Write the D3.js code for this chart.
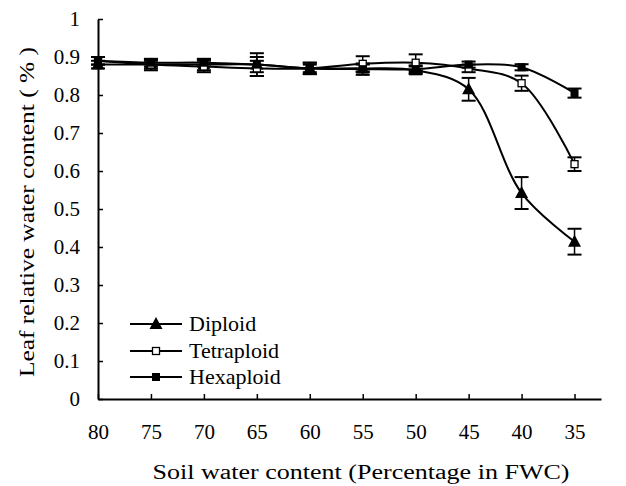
<!DOCTYPE html>
<html>
<head>
<meta charset="utf-8">
<script src="https://cdn.jsdelivr.net/npm/d3@7"></script>
<style>
  html, body { margin: 0; padding: 0; background: #fff; }
  svg { display: block; }
  text { font-family: "Liberation Serif", "Times New Roman", Times, serif; fill: #000; }
</style>
</head>
<body>
<svg id="chart" width="626" height="486"></svg>
<script>
// ---- data ----
const categories = ["80", "75", "70", "65", "60", "55", "50", "45", "40", "35"];
const diploid      = [0.880, 0.880, 0.880, 0.880, 0.870, 0.870, 0.865, 0.815, 0.542, 0.414];
const diploidErr   = [0.010, 0.010, 0.015, 0.020, 0.010, 0.010, 0.010, 0.030, 0.042, 0.034];
const tetraploid   = [0.890, 0.880, 0.875, 0.870, 0.870, 0.882, 0.885, 0.870, 0.831, 0.618];
const tetraErr     = [0.010, 0.015, 0.015, 0.020, 0.015, 0.020, 0.022, 0.010, 0.020, 0.018];
const hexaploid    = [0.890, 0.885, 0.885, 0.880, 0.870, 0.868, 0.868, 0.880, 0.873, 0.805];
const hexaErr      = [0.010, 0.010, 0.010, 0.030, 0.015, 0.015, 0.010, 0.008, 0.008, 0.012];
const yTicks = [0, 0.1, 0.2, 0.3, 0.4, 0.5, 0.6, 0.7, 0.8, 0.9, 1];
const yTickLabels = ["0", "0.1", "0.2", "0.3", "0.4", "0.5", "0.6", "0.7", "0.8", "0.9", "1"];
const seriesNames = ["Diploid", "Tetraploid", "Hexaploid"];
const xTitle = "Soil water content (Percentage in FWC)";
const yTitle = "Leaf relative water content ( % )";

(function () {
const series = [
  { name: seriesNames[0], values: diploid, err: diploidErr, marker: "triangle" },
  { name: seriesNames[1], values: tetraploid, err: tetraErr, marker: "open" },
  { name: seriesNames[2], values: hexaploid, err: hexaErr, marker: "filled" }
];

const svg = d3.select("#chart");
const mLeft = 98, mRight = 601, mTop = 19, mBottom = 399;

const x = d3.scaleLinear().domain([0, categories.length - 0.5]).range([mLeft, mRight]);
const y = d3.scaleLinear().domain([0, 1]).range([mBottom, mTop]);

// axes
const xAxis = d3.axisBottom(x)
  .tickValues(d3.range(categories.length))
  .tickFormat(i => categories[i])
  .tickSize(-5).tickSizeOuter(0).tickPadding(25);
const gx = svg.append("g").attr("transform", `translate(0,${mBottom})`).call(xAxis)
  .attr("font-family", null).attr("font-size", null);
gx.select(".domain").attr("stroke", "#000").attr("stroke-width", 2);
gx.selectAll(".tick line").attr("stroke", "#000").attr("stroke-width", 1.5);
gx.selectAll(".tick text").attr("font-size", 21);

const yAxis = d3.axisLeft(y)
  .tickValues(yTicks)
  .tickFormat((d, i) => yTickLabels[i])
  .tickSize(-5).tickSizeOuter(0).tickPadding(18);
const gy = svg.append("g").attr("transform", `translate(${mLeft},0)`).call(yAxis)
  .attr("font-family", null).attr("font-size", null);
gy.select(".domain").attr("stroke", "#000").attr("stroke-width", 2);
gy.selectAll(".tick line").attr("stroke", "#000").attr("stroke-width", 1.5);
gy.selectAll(".tick text").attr("font-size", 21);

// lines
const line = d3.line()
  .x((d, i) => x(i))
  .y(d => y(d))
  .curve(d3.curveCatmullRom.alpha(0.5));

const gPlot = svg.append("g");
series.forEach(s => {
  gPlot.append("path")
    .attr("d", line(s.values))
    .attr("fill", "none")
    .attr("stroke", "#000")
    .attr("stroke-width", 2);
});

// error bars
series.forEach(s => {
  const g = gPlot.append("g");
  s.values.forEach((v, i) => {
    const cx = x(i), hi = y(v + s.err[i]), lo = y(v - s.err[i]);
    g.append("line").attr("x1", cx).attr("x2", cx).attr("y1", hi).attr("y2", lo)
      .attr("stroke", "#000").attr("stroke-width", 1.5);
    [hi, lo].forEach(yy => {
      g.append("line").attr("x1", cx - 7).attr("x2", cx + 7).attr("y1", yy).attr("y2", yy)
        .attr("stroke", "#000").attr("stroke-width", 2);
    });
  });
});

function drawMarker(g, type, cx, cy) {
  if (type === "triangle") {
    g.append("path")
      .attr("d", `M${cx},${cy - 7}L${cx + 6.5},${cy + 5}L${cx - 6.5},${cy + 5}Z`)
      .attr("fill", "#000");
  } else if (type === "open") {
    g.append("rect").attr("x", cx - 3.5).attr("y", cy - 3.5).attr("width", 7).attr("height", 7)
      .attr("fill", "#fff").attr("stroke", "#000").attr("stroke-width", 1.3);
  } else {
    g.append("rect").attr("x", cx - 4).attr("y", cy - 4).attr("width", 8).attr("height", 8)
      .attr("fill", "#000");
  }
}

// markers
series.forEach(s => {
  const g = gPlot.append("g");
  s.values.forEach((v, i) => drawMarker(g, s.marker, x(i), y(v)));
});

// legend
const legendRows = [324, 351, 377];
const lg = svg.append("g");
series.forEach((s, k) => {
  const yy = legendRows[k];
  lg.append("line").attr("x1", 130).attr("x2", 182).attr("y1", yy).attr("y2", yy)
    .attr("stroke", "#000").attr("stroke-width", 2);
  drawMarker(lg, s.marker, 156, yy);
  lg.append("text").attr("x", 189).attr("y", yy + 7).attr("font-size", 22).text(s.name);
});

// titles
svg.append("text")
  .attr("x", 361).attr("y", 479)
  .attr("text-anchor", "middle").attr("font-size", 20)
  .attr("textLength", 417).attr("lengthAdjust", "spacingAndGlyphs")
  .text(xTitle);
svg.append("text")
  .attr("transform", `translate(34,212) rotate(-90)`)
  .attr("text-anchor", "middle").attr("font-size", 20)
  .attr("textLength", 330).attr("lengthAdjust", "spacingAndGlyphs")
  .text(yTitle);
})();
</script>
</body>
</html>
